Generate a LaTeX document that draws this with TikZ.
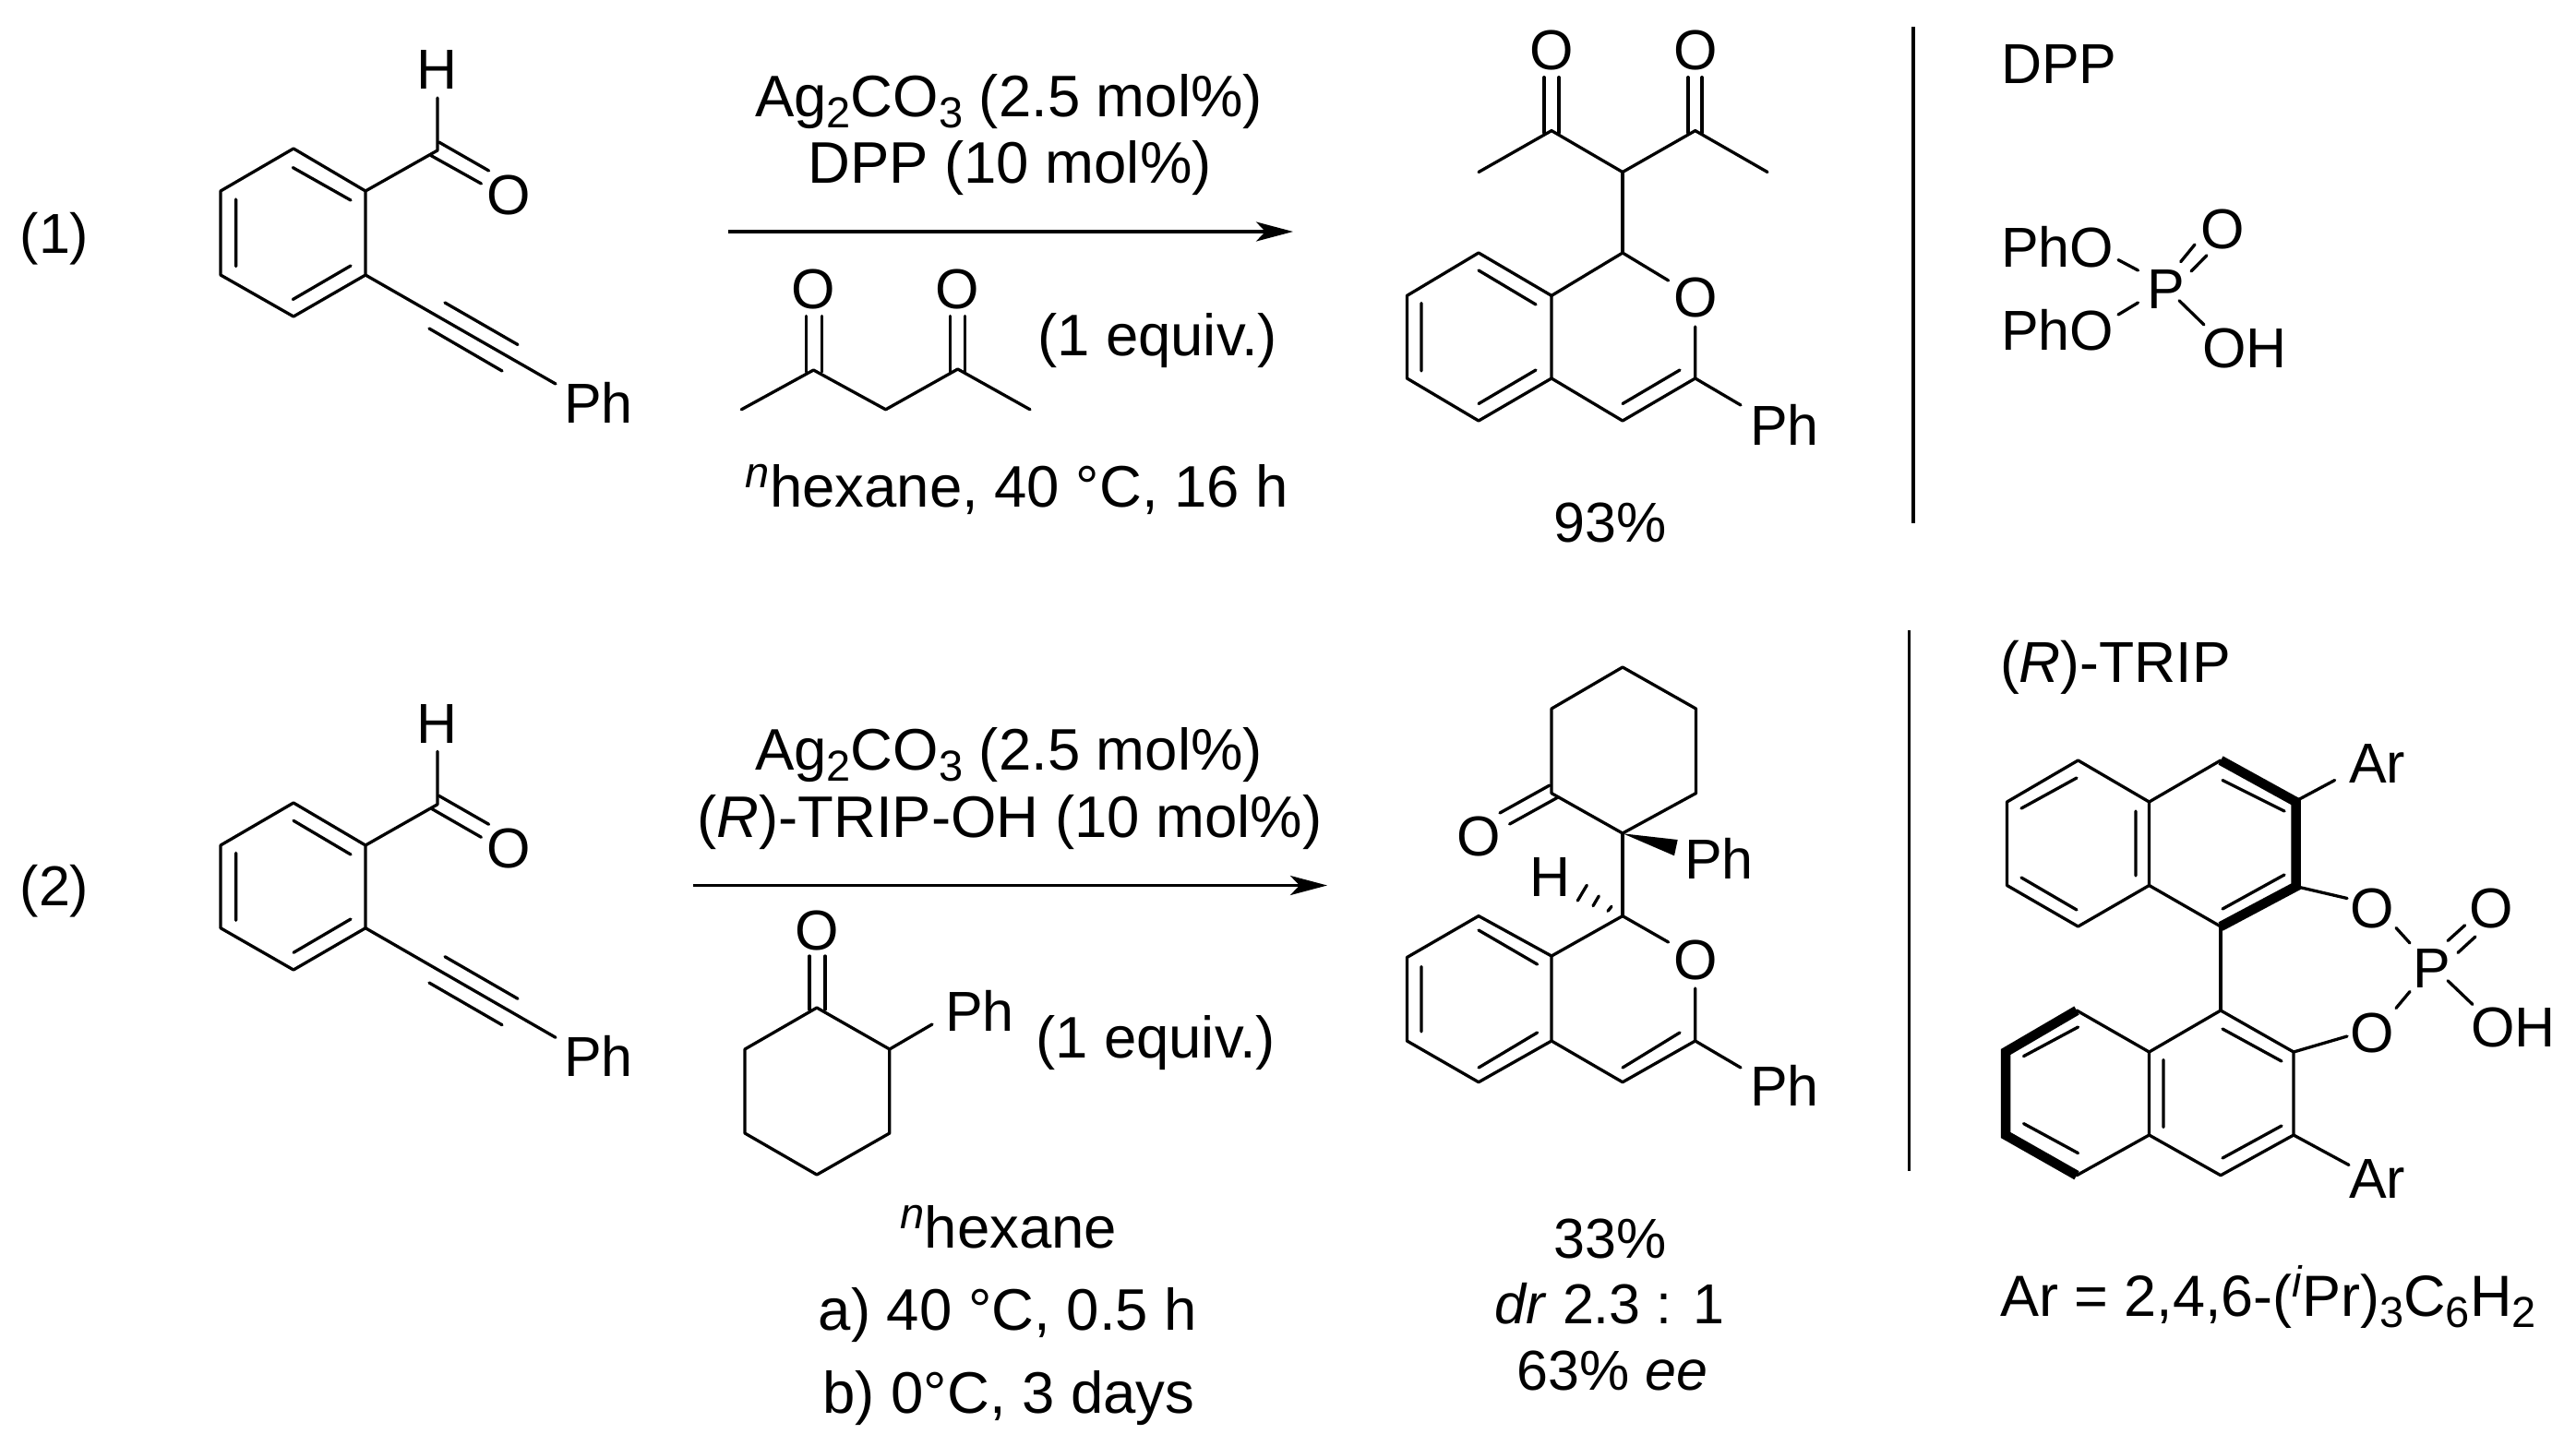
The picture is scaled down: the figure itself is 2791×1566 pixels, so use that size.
\documentclass[tikz,border=0pt]{standalone}
\usepackage{fontspec}
\setmainfont{Liberation Sans}
\usetikzlibrary{arrows.meta}
\newcommand\chemsub[1]{\raisebox{-12.6pt}{\fontsize{47}{47}\selectfont #1}}
\newcommand\chemsup[1]{\raisebox{21pt}{\fontsize{47}{47}\selectfont\itshape #1}}
\tikzset{
  bond/.style={line width=3.3pt,line cap=round,line join=round},
  boldbond/.style={line width=10.5pt,line cap=butt,line join=miter},
  rxn/.style={line width=3.6pt,-{Stealth[length=40pt,width=21pt,inset=10pt]}},
  divider/.style={line width=3.6pt},
  lab/.style={inner sep=0pt,outer sep=0pt,anchor=base,font=\fontsize{61}{61}\selectfont},
  labw/.style={lab,anchor=base west},
  cond/.style={lab,font=\fontsize{63.5}{63.5}\selectfont},
  condw/.style={cond,anchor=base west},
}
\begin{document}
\begin{tikzpicture}[x=1pt,y=-1pt]
\useasboundingbox (0,0) rectangle (2791,1566);
\fill[white] (0,0) rectangle (2791,1566);
% ---------- reaction labels
\node[lab] (n1) at (59,274.5) {(1)};
\node[lab] (n2) at (59,981) {(2)};
% ---------- substrate 1
\draw[bond] (239,207)--(318,161)--(396,207)--(396,298)--(318,343)--(239,298)--cycle;
\draw[bond] (317.3,181.6)--(380,217) (255.6,216)--(255.6,288.6) (317.3,324.5)--(380,288);
\draw[bond] (396,207)--(474,163)--(474,106);
\draw[bond] (475.5,154)--(529.6,185) (467,168.6)--(521.4,199);
\draw[bond] (396,298)--(602,416) (482,328)--(561,373.5) (465,356)--(544,402);
\node[lab] (h1) at (473.5,96.7) {H};
\node[lab] (o1) at (551,232.6) {O};
\node[labw] (ph1) at (611,458) {Ph};
% ---------- substrate 2
\draw[bond] (239,916)--(318,870)--(396,916)--(396,1005.7)--(318,1051)--(239,1005.7)--cycle;
\draw[bond] (318,889.3)--(380,926) (255.6,924.3)--(255.6,997.3) (318,1032.3)--(380,996);
\draw[bond] (396,916)--(474,871.7)--(474,814.3);
\draw[bond] (475.5,862.3)--(529.6,893.3) (467,876)--(521.4,907.3);
\draw[bond] (396,1005.7)--(602,1124.3) (482,1036.7)--(561,1082.3) (465,1065)--(544,1110.7);
\node[lab] (h2) at (473.5,805) {H};
\node[lab] (o2) at (551,940) {O};
\node[labw] (ph2) at (611,1166) {Ph};
% ---------- reaction 1 conditions
\node[cond] (t1a) at (1093,126) {Ag\chemsub{2}CO\chemsub{3} (2.5 mol\%)};
\node[cond] (t1b) at (1094,198.5) {DPP (10 mol\%)};
\coordinate (a1s) at (789,251);
\coordinate (a1e) at (1401,251);
\draw[rxn] (a1s)--(a1e);
\draw[bond] (803.3,443.8)--(881.4,401)--(959.6,443.8)--(1037.7,400)--(1116,443.8);
\draw[bond] (873.8,342.4)--(873.8,403) (890.8,342.4)--(890.8,403);
\draw[bond] (1029.6,342.4)--(1029.6,403) (1045.7,342.4)--(1045.7,403);
\node[lab] (o3) at (881.4,334) {O};
\node[lab] (o4) at (1037.7,334) {O};
\node[condw] (eq1) at (1124,385) {(1 equiv.)};
\node[cond] (t1c) at (1102,549) {\chemsup{n}hexane, 40 °C, 16 h};
% ---------- reaction 2 conditions
\node[cond] (t2a) at (1093,834) {Ag\chemsub{2}CO\chemsub{3} (2.5 mol\%)};
\node[cond] (t2b) at (1094,907) {(\textit{R})-TRIP-OH (10 mol\%)};
\coordinate (a2s) at (751,959.5);
\coordinate (a2e) at (1438,959.5);
\draw[rxn] (a2s)--(a2e);
\draw[bond] (885,1092)--(963.8,1137)--(963.8,1228)--(885,1273)--(807,1228)--(807,1137)--cycle;
\draw[bond] (877,1036)--(877,1094) (894,1036)--(894,1094);
\draw[bond] (963.8,1137)--(1010,1110);
\node[lab] (o5) at (885,1029) {O};
\node[labw] (ph3) at (1024,1117) {Ph};
\node[condw] (eq2) at (1122,1146) {(1 equiv.)};
\node[cond] (t2c) at (1093,1352) {\chemsup{n}hexane};
\node[cond] (t2d) at (1092,1441) {a) 40 °C, 0.5 h};
\node[cond] (t2e) at (1093,1531) {b) 0°C, 3 days};
% ---------- product 1
\draw[bond] (1602,186.5)--(1681,141.6)--(1758,186.5)--(1836.7,141.6)--(1915,186.5);
\draw[bond] (1673,83.7)--(1673,144) (1689,83.7)--(1689,144);
\draw[bond] (1829,83.7)--(1829,144) (1844,83.7)--(1844,144);
\draw[bond] (1758,186.5)--(1758,274);
\draw[bond] (1681,320.4)--(1602,274)--(1524.4,320.4)--(1524.4,410)--(1602,456)--(1681,410)--cycle;
\draw[bond] (1681,320.4)--(1758,274)--(1807.6,304);
\draw[bond] (1681,410)--(1758,456)--(1836.7,410)--(1836.7,354);
\draw[bond] (1836.7,410)--(1886,439);
\draw[bond] (1602,293)--(1664,330) (1540,328.6)--(1540,402) (1602,437.5)--(1664,401) (1758,437.5)--(1820,401);
\node[lab] (o6) at (1681,75) {O};
\node[lab] (o7) at (1836.7,75) {O};
\node[lab] (o8) at (1836.7,343.7) {O};
\node[labw] (ph4) at (1896,482) {Ph};
\node[lab] (y1) at (1745,587) {93\%};
% ---------- divider 1 and DPP
\coordinate (d1s) at (2072.7,29);
\coordinate (d1e) at (2072.7,567);
\draw[divider] (d1s)--(d1e);
\node[labw] (dpp) at (2168,90.6) {DPP};
\node[labw] (pho1) at (2168,289) {PhO};
\node[labw] (pho2) at (2168,379.6) {PhO};
\node[lab] (p1) at (2347,334.7) {P};
\node[lab] (o9) at (2408,269.4) {O};
\node[labw] (oh1) at (2386,398) {OH};
\draw[bond] (2295,281.6)--(2316.5,293) (2295,341)--(2316.5,328);
\draw[bond] (2362.7,283.7)--(2378,265) (2374,294)--(2391,276.7);
\draw[bond] (2361,325.7)--(2388,352);
% ---------- product 2
\draw[bond] (1758,723)--(1837.5,768)--(1837.5,859.6)--(1758,903)--(1681,859.6)--(1681,768)--cycle;
\draw[bond] (1625,881)--(1679,851) (1635.6,893)--(1688,864);
\fill (1758.3,903.3)--(1817.7,910)--(1814,927.3)--cycle;
\draw[bond] (1758,903)--(1758,992.6);
\draw[bond] (1719.3,959.3)--(1709.3,976) (1732.3,971)--(1726,981.7) (1746,982.3)--(1742,987.3);
\draw[bond] (1681,1036)--(1602,992.6)--(1524.4,1037.5)--(1524.4,1128)--(1602,1172.7)--(1681,1128)--cycle;
\draw[bond] (1681,1036)--(1758,992.6)--(1807.6,1021);
\draw[bond] (1681,1128)--(1758,1172.7)--(1836.7,1128)--(1836.7,1071);
\draw[bond] (1836.7,1128)--(1886,1157);
\draw[bond] (1602,1008)--(1665.6,1045) (1540,1047.6)--(1540,1118) (1602,1157)--(1665.6,1119) (1758,1157)--(1820,1119);
\node[lab] (o10) at (1602,927) {O};
\node[labw] (ph5) at (1825,952) {Ph};
\node[lab] (h3) at (1680,971.7) {H};
\node[lab] (o11) at (1836.7,1061.6) {O};
\node[labw] (ph6) at (1896,1198) {Ph};
\node[lab] (y2a) at (1745,1363) {33\%};
\node[lab] (y2b) at (1744,1434) {\textit{dr} 2.3 : 1};
\node[lab] (y2c) at (1747,1506) {63\% \textit{ee}};
% ---------- divider 2 and TRIP
\coordinate (d2s) at (2068.5,683);
\coordinate (d2e) at (2068.5,1269);
\draw[divider] (d2s)--(d2e);
\node[condw,font=\fontsize{62.5}{62.5}\selectfont] (trip) at (2167,739) {(\textit{R})-TRIP};
% upper naphthyl
\draw[bond] (2251.5,824)--(2328.5,869)--(2328.5,959.5)--(2251.5,1004)--(2174.5,959.5)--(2174.5,869)--cycle;
\draw[bond] (2328.5,869)--(2406,824) (2328.5,959.5)--(2406,1004);
\draw[boldbond] (2406,824)--(2487.6,869)--(2487.6,960.6)--(2406,1004);
\draw[bond] (2190,876)--(2250,843) (2190,951)--(2250,986) (2314,879)--(2314,949);
\draw[bond] (2408,845.5)--(2475,879) (2408,985)--(2475,948);
\draw[bond] (2487.6,868)--(2529.6,845.5) (2487.6,960.6)--(2543,973.5);
\draw[bond] (2406,1004)--(2406,1095);
% lower naphthyl
\draw[bond] (2406,1095)--(2485,1140)--(2485,1230)--(2406,1273.7)--(2328.5,1230)--(2328.5,1140)--cycle;
\draw[bond] (2328.5,1140)--(2250,1095) (2328.5,1230)--(2250,1273.7);
\draw[boldbond] (2250,1095)--(2173,1140)--(2173,1230)--(2250,1273.7);
\draw[bond] (2408,1115)--(2472,1150) (2408,1255)--(2472,1220) (2344,1148.6)--(2344,1221.5);
\draw[bond] (2192.5,1144.6)--(2251.5,1113) (2192.5,1217.6)--(2251.5,1249.6);
\draw[bond] (2485,1140)--(2543,1123) (2485,1230)--(2545,1262.5);
% phosphate
\draw[bond] (2596,1005.5)--(2611,1022) (2596,1092.5)--(2611,1074.5);
\draw[bond] (2652,1019.5)--(2670.6,1002.7) (2663,1032.4)--(2682,1015);
\draw[bond] (2652,1062.7)--(2679,1088.5);
\node[labw] (ar1) at (2545,848) {Ar};
\node[labw] (ar2) at (2545,1298) {Ar};
\node[lab] (o12) at (2570.6,1005.5) {O};
\node[lab] (o13) at (2570.6,1140) {O};
\node[lab] (p2) at (2635,1070) {P};
\node[lab] (o14) at (2699,1005.5) {O};
\node[labw] (oh2) at (2677,1134.5) {OH};
\node[condw,font=\fontsize{63}{63}\selectfont] (arf) at (2167,1426) {Ar = 2,4,6-(\chemsup{i}Pr)\chemsub{3}C\chemsub{6}H\chemsub{2}};
\end{tikzpicture}
\end{document}
